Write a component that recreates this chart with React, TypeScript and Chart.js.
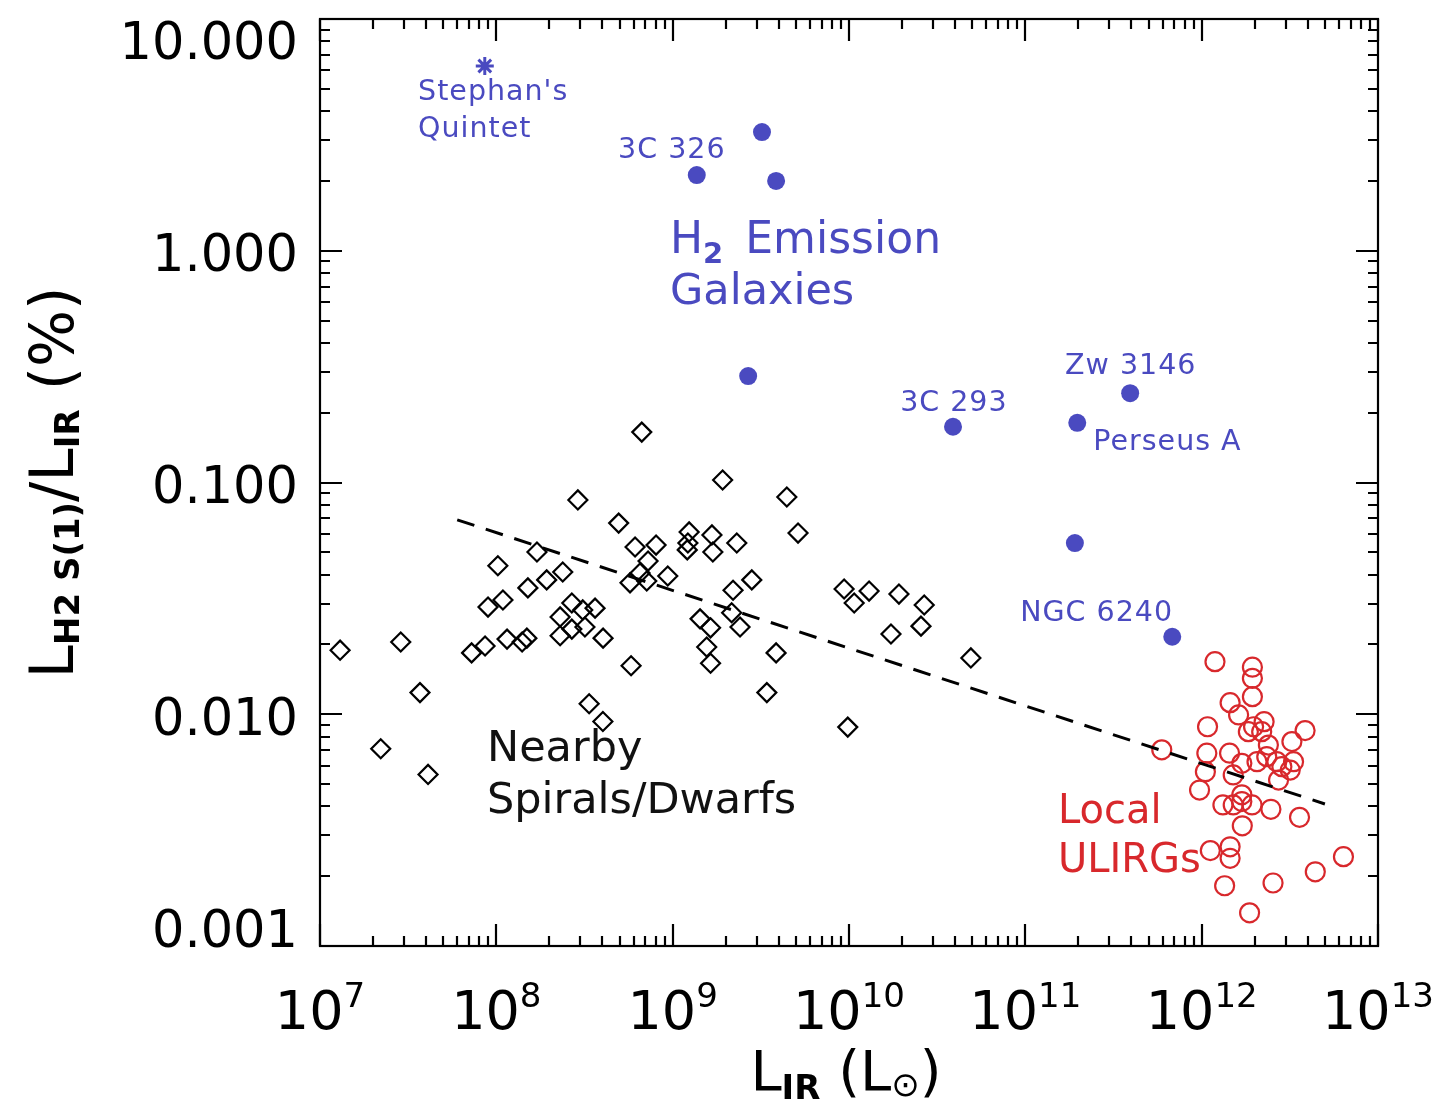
import React, { useEffect, useRef } from 'react';
import { Chart, registerables } from 'chart.js';

Chart.register(...registerables);

// ---------------- DATA ----------------
// Nearby spirals / dwarfs (L_IR in Lsun, ratio in %)
const spiralX = [
  1.30e7, 2.87e7, 3.69e7, 2.21e7, 4.10e7, 7.24e7, 8.63e7, 1.15e8, 1.40e8, 1.49e8,
  8.97e7, 1.09e8, 1.02e8, 1.51e8, 1.93e8, 2.38e8, 1.70e8, 2.90e8, 2.30e8, 2.68e8,
  3.09e8, 3.63e8, 2.30e8, 2.68e8, 3.18e8, 4.03e8, 5.81e8, 3.36e8, 4.02e8, 4.94e8,
  6.12e8, 8.05e8, 7.25e8, 6.53e8, 5.73e8, 7.13e8, 9.38e8, 6.68e8, 1.24e9, 1.22e9,
  1.21e9, 1.67e9, 1.69e9, 1.92e9, 1.43e9, 1.64e9, 1.56e9, 1.64e9, 4.44e9, 5.14e9,
  2.31e9, 2.81e9, 2.20e9, 2.16e9, 2.41e9, 3.86e9, 3.42e9, 9.84e9, 9.38e9, 1.07e10,
  1.30e10, 1.92e10, 2.67e10, 2.56e10, 1.73e10, 4.91e10,
];
const spiralY = [
  0.0189, 0.0205, 0.0124, 0.0071, 0.0055, 0.0184, 0.0197, 0.0211, 0.0205, 0.0213,
  0.0290, 0.0311, 0.0437, 0.0351, 0.0380, 0.0411, 0.0501, 0.0841, 0.0263, 0.0302,
  0.0282, 0.0287, 0.0218, 0.0233, 0.0238, 0.0213, 0.0162, 0.0111, 0.0093, 0.0668,
  0.0527, 0.0537, 0.0458, 0.0407, 0.0369, 0.0376, 0.0395, 0.165, 0.0612, 0.0548,
  0.0512, 0.0594, 0.0501, 0.1025, 0.0258, 0.0236, 0.0195, 0.0166, 0.0866, 0.0605,
  0.0548, 0.0380, 0.0343, 0.0274, 0.0238, 0.0184, 0.0124, 0.0088, 0.0347, 0.0302,
  0.0340, 0.0330, 0.0296, 0.0240, 0.0222, 0.0175,
];

// Local ULIRGs
const ulirgX = [
  1.19e12, 1.94e12, 1.94e12, 1.94e12, 1.45e12, 1.62e12, 2.26e12, 1.97e12, 1.84e12, 2.19e12,
  1.08e12, 3.86e12, 3.25e12, 5.94e11, 1.07e12, 1.44e12, 2.39e12, 2.34e12, 2.06e12, 2.67e12,
  3.32e12, 1.69e12, 2.85e12, 1.05e12, 1.51e12, 3.18e12, 2.73e12, 9.73e11, 1.69e12, 1.32e12,
  1.51e12, 1.93e12, 1.69e12, 2.47e12, 3.59e12, 1.70e12, 1.12e12, 1.45e12, 1.45e12, 6.37e12,
  4.41e12, 2.54e12, 1.35e12, 1.87e12,
];
const ulirgY = [
  0.01686, 0.01596, 0.01429, 0.01191, 0.01122, 0.00993, 0.00929, 0.00883, 0.00841, 0.00841,
  0.00883, 0.00850, 0.00762, 0.00702, 0.00679, 0.00679, 0.00736, 0.00656, 0.00624, 0.00624,
  0.00624, 0.00614, 0.00594, 0.00565, 0.00547, 0.00574, 0.00520, 0.00471, 0.00449, 0.00406,
  0.00406, 0.00406, 0.00420, 0.00389, 0.00359, 0.00330, 0.00258, 0.00268, 0.00239, 0.00243,
  0.00209, 0.00187, 0.00182, 0.00139,
];

// H2 emission galaxies
const h2X = [1.37e9, 3.21e9, 3.86e9, 2.68e9, 3.89e10, 1.97e11, 3.93e11, 1.91e11, 6.81e11];
const h2Y = [2.12, 3.25, 2.0, 0.288, 0.174, 0.181, 0.243, 0.0548, 0.0216];

// Stephan's Quintet
const sqX = [8.6e7];
const sqY = [6.27];

// Dashed trend line
const trendX = [6.0e7, 5.0e12];
const trendY = [0.069, 0.0041];

// Axes
const xMin = 1e7;
const xMax = 1e13;
const yMin = 0.001;
const yMax = 10;
const yTickValues = [10, 1, 0.1, 0.01, 0.001];
const yTickLabels = ['10.000', '1.000', '0.100', '0.010', '0.001'];
const xTickExponents = ['7', '8', '9', '10', '11', '12', '13'];

// Annotations (anchor in data coordinates: left edge, vertical centre)
const noteText = [
  "Stephan's", 'Quintet', '3C 326', '3C 293', 'Zw 3146', 'Perseus A', 'NGC 6240',
  'H2 Emission', 'Galaxies', 'Nearby', 'Spirals/Dwarfs', 'Local', 'ULIRGs',
];
const noteX = [3.6e7, 3.6e7, 4.9e8, 1.95e10, 1.68e11, 2.43e11, 9.35e10, 9.66e8, 9.66e8, 8.85e7, 8.85e7, 1.53e11, 1.53e11];
const noteY = [4.94, 3.42, 2.80, 0.2249, 0.3246, 0.1526, 0.0279, 1.146, 0.691, 0.00737, 0.0044, 0.00394, 0.0024];
const noteKind = ['small', 'small', 'small', 'small', 'small', 'small', 'small', 'h2', 'big', 'black', 'black', 'red', 'red'];

// ---------------- STYLE ----------------
const BLUE = '#4a4ac0';
const RED = '#d8282c';
const FONT = '"DejaVu Sans"';

type Part = { text: string; size: number; dy?: number; bold?: boolean; spacing?: number };

function drawParts(ctx: CanvasRenderingContext2D, parts: Part[], x: number, y: number, align: 'left' | 'center') {
  const c: any = ctx;
  const widths = parts.map((p) => {
    ctx.font = `${p.bold ? 'bold ' : ''}${p.size}px ${FONT}`;
    c.letterSpacing = `${p.spacing || 0}px`;
    return ctx.measureText(p.text).width;
  });
  const total = widths.reduce((a, b) => a + b, 0);
  let cx = align === 'center' ? x - total / 2 : x;
  parts.forEach((p, i) => {
    ctx.font = `${p.bold ? 'bold ' : ''}${p.size}px ${FONT}`;
    c.letterSpacing = `${p.spacing || 0}px`;
    ctx.fillText(p.text, cx, y + (p.dy || 0));
    cx += widths[i];
  });
  c.letterSpacing = '0px';
}

const framePlugin = {
  id: 'idlFrame',
  afterDatasetsDraw(chart: any) {
    const ctx: CanvasRenderingContext2D = chart.ctx;
    const { left, right, top, bottom } = chart.chartArea;
    const xs = chart.scales.x;
    const ys = chart.scales.y;
    ctx.save();
    ctx.strokeStyle = '#000';
    ctx.lineWidth = 2.2;
    ctx.strokeRect(left, top, right - left, bottom - top);

    const MAJ = 22;
    const MIN = 10;
    ctx.beginPath();
    for (let e = 7; e <= 13; e++) {
      for (let m = 1; m <= 9; m++) {
        const v = m * Math.pow(10, e);
        if (v > xMax * 1.0001) break;
        const px = Math.round(xs.getPixelForValue(v));
        const len = m === 1 ? MAJ : MIN;
        ctx.moveTo(px, bottom);
        ctx.lineTo(px, bottom - len);
        ctx.moveTo(px, top);
        ctx.lineTo(px, top + len);
      }
    }
    for (let e = -3; e <= 1; e++) {
      for (let m = 1; m <= 9; m++) {
        const v = m * Math.pow(10, e);
        if (v > yMax * 1.0001) break;
        const py = Math.round(ys.getPixelForValue(v));
        const len = m === 1 ? MAJ : MIN;
        ctx.moveTo(left, py);
        ctx.lineTo(left + len, py);
        ctx.moveTo(right, py);
        ctx.lineTo(right - len, py);
      }
    }
    ctx.stroke();

    // y tick labels
    ctx.fillStyle = '#000';
    ctx.textAlign = 'right';
    ctx.textBaseline = 'alphabetic';
    const ySize = 51;
    ctx.font = `${ySize}px ${FONT}`;
    yTickValues.forEach((v, i) => {
      const py = ys.getPixelForValue(v);
      const cy = Math.min(Math.max(py + 2, top + 21), bottom - 18);
      ctx.fillText(yTickLabels[i], left - 22, cy + 0.3645 * ySize);
    });

    // x tick labels 10^n
    ctx.textAlign = 'left';
    xTickExponents.forEach((ex) => {
      const px = xs.getPixelForValue(Math.pow(10, Number(ex)));
      drawParts(ctx, [
        { text: '10', size: 54 },
        { text: ex, size: 34, dy: -22 },
      ], px, 1029, 'center');
    });

    // x title
    drawParts(ctx, [
      { text: 'L', size: 56 },
      { text: 'IR', size: 34, dy: 9, bold: true },
      { text: ' (', size: 56 },
      { text: 'L', size: 56 },
      { text: '\u2299', size: 34, dy: 6 },
      { text: ')', size: 56 },
    ], (left + right) / 2 - 3, 1090, 'center');

    // y title (rotated)
    ctx.save();
    ctx.translate(73, (top + bottom) / 2);
    ctx.rotate(-Math.PI / 2);
    drawParts(ctx, [
      { text: 'L', size: 60 },
      { text: 'H2 S(1)', size: 34, dy: 6, bold: true },
      { text: '/', size: 60 },
      { text: 'L', size: 60 },
      { text: 'IR', size: 34, dy: 6, bold: true },
      { text: ' (%)', size: 60 },
    ], 0, 0, 'center');
    ctx.restore();

    // annotations
    noteText.forEach((t, i) => {
      const px = xs.getPixelForValue(noteX[i]);
      const py = ys.getPixelForValue(noteY[i]);
      const kind = noteKind[i];
      if (kind === 'small') {
        ctx.fillStyle = BLUE;
        drawParts(ctx, [{ text: t, size: 28.5, spacing: 1 }], px, py + 0.3645 * 28.5, 'left');
      } else if (kind === 'h2') {
        ctx.fillStyle = BLUE;
        drawParts(ctx, [
          { text: 'H', size: 44 },
          { text: '2', size: 29, dy: 10, bold: true },
          { text: ' ', size: 44, spacing: 8 },
          { text: 'Emission', size: 44 },
        ], px, py + 0.3645 * 44, 'left');
      } else if (kind === 'big') {
        ctx.fillStyle = BLUE;
        drawParts(ctx, [{ text: t, size: 43 }], px, py + 0.3645 * 43, 'left');
      } else if (kind === 'black') {
        ctx.fillStyle = '#111';
        drawParts(ctx, [{ text: t, size: 43 }], px, py + 0.3645 * 43, 'left');
      } else {
        ctx.fillStyle = RED;
        drawParts(ctx, [{ text: t, size: 40 }], px, py + 0.3645 * 40, 'left');
      }
    });
    ctx.restore();
  },
};

function pts(xa: number[], ya: number[]) {
  return xa.map((x, i) => ({ x, y: ya[i] }));
}

export default function App() {
  const ref = useRef<HTMLCanvasElement | null>(null);
  useEffect(() => {
    if (!ref.current) return;
    const chart = new Chart(ref.current, {
      type: 'scatter',
      data: {
        datasets: [
          {
            label: 'Trend',
            type: 'line',
            data: pts(trendX, trendY),
            borderColor: '#000',
            borderWidth: 3,
            borderDash: [18, 12],
            pointRadius: 0,
            fill: false,
          } as any,
          {
            label: 'Nearby Spirals/Dwarfs',
            data: pts(spiralX, spiralY),
            pointStyle: 'rectRot',
            pointRadius: 9.5,
            borderColor: '#000',
            borderWidth: 2.2,
            backgroundColor: 'rgba(0,0,0,0)',
          },
          {
            label: 'Local ULIRGs',
            data: pts(ulirgX, ulirgY),
            pointStyle: 'circle',
            pointRadius: 9.5,
            borderColor: RED,
            borderWidth: 2.2,
            backgroundColor: 'rgba(0,0,0,0)',
          },
          {
            label: 'H2 Emission Galaxies',
            data: pts(h2X, h2Y),
            pointStyle: 'circle',
            pointRadius: 9,
            borderWidth: 0,
            backgroundColor: BLUE,
            borderColor: BLUE,
          },
          {
            label: "Stephan's Quintet",
            data: pts(sqX, sqY),
            pointStyle: 'star',
            pointRadius: 9,
            borderColor: BLUE,
            borderWidth: 3,
            backgroundColor: BLUE,
          },
        ],
      },
      options: {
        responsive: false,
        animation: false,
        events: [],
        layout: { padding: { left: 320, top: 19, right: 61, bottom: 174 } },
        plugins: { legend: { display: false }, tooltip: { enabled: false } },
        scales: {
          x: { type: 'logarithmic', min: xMin, max: xMax, display: false },
          y: { type: 'logarithmic', min: yMin, max: yMax, display: false },
        },
      },
      plugins: [framePlugin],
    });
    return () => chart.destroy();
  }, []);
  return (
    <div style={{ position: 'fixed', left: 0, top: 0, width: 1439, height: 1120, background: '#fff' }}>
      <canvas ref={ref} width={1439} height={1120} style={{ display: 'block' }} />
    </div>
  );
}
